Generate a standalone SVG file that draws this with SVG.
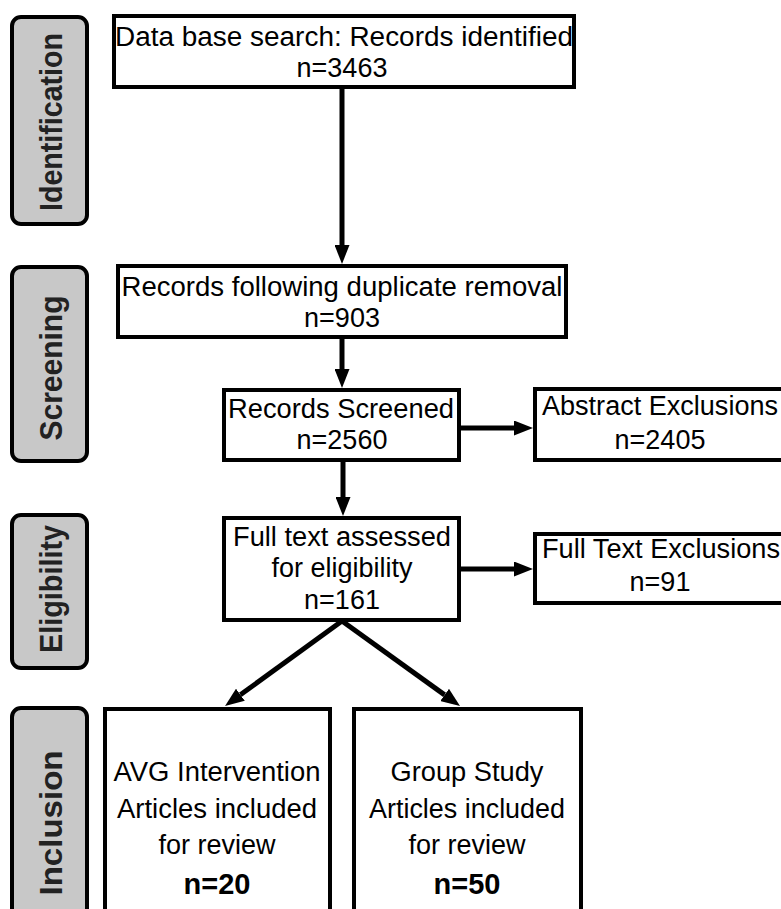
<svg xmlns="http://www.w3.org/2000/svg" width="781" height="909" viewBox="0 0 781 909">
<style>
  .lbl rect { fill: #c8c8c8; stroke: #000; stroke-width: 4; }
  .lbl text { font-family: "Liberation Sans", Arial, sans-serif; font-weight: bold; font-size: 31px; fill: #222; text-anchor: middle; }
  .box rect { fill: #fff; stroke: #000; stroke-width: 4; }
  .box text { font-family: "Liberation Sans", Arial, sans-serif; font-size: 27px; fill: #000; text-anchor: middle; }
  .box text.b { font-weight: bold; font-size: 29px; }
  .conn path { fill: none; stroke: #000; stroke-width: 5; }
</style>
<defs>
  <marker id="ah" markerUnits="userSpaceOnUse" markerWidth="19" markerHeight="15" refX="0" refY="7.5" orient="auto">
    <path d="M0,0 L19,7.5 L0,15 z" fill="#000"/>
  </marker>
</defs>
<rect width="781" height="909" fill="#fff"/>

<g id="lbl-identification" class="lbl">
  <rect x="12" y="17" width="75" height="207" rx="9"/>
  <text transform="translate(62,122) rotate(-90)" textLength="178" lengthAdjust="spacingAndGlyphs">Identification</text>
</g>
<g id="lbl-screening" class="lbl">
  <rect x="12" y="267" width="75" height="194" rx="9"/>
  <text transform="translate(62,368) rotate(-90)" textLength="145" lengthAdjust="spacingAndGlyphs">Screening</text>
</g>
<g id="lbl-eligibility" class="lbl">
  <rect x="12" y="515" width="75" height="153" rx="9"/>
  <text transform="translate(62,589) rotate(-90)" textLength="128" lengthAdjust="spacingAndGlyphs">Eligibility</text>
</g>
<g id="lbl-inclusion" class="lbl">
  <rect x="12" y="708" width="75" height="230" rx="9"/>
  <text transform="translate(62,823) rotate(-90)" textLength="145" lengthAdjust="spacingAndGlyphs">Inclusion</text>
</g>

<g id="n-search" class="box">
  <rect x="114" y="16" width="460" height="71"/>
  <text x="344" y="46" textLength="458" lengthAdjust="spacingAndGlyphs">Data base search: Records identified</text>
  <text x="342" y="77">n=3463</text>
</g>
<g id="n-dedup" class="box">
  <rect x="118" y="266" width="448" height="71"/>
  <text x="342" y="296" textLength="441" lengthAdjust="spacingAndGlyphs">Records following duplicate removal</text>
  <text x="342" y="327">n=903</text>
</g>
<g id="n-screened" class="box">
  <rect x="224" y="390" width="235" height="70"/>
  <text x="341" y="418" textLength="226" lengthAdjust="spacingAndGlyphs">Records Screened</text>
  <text x="342" y="449">n=2560</text>
</g>
<g id="n-abstract" class="box">
  <rect x="535" y="389" width="252" height="71"/>
  <text x="660" y="415" textLength="236" lengthAdjust="spacingAndGlyphs">Abstract Exclusions</text>
  <text x="660" y="449">n=2405</text>
</g>
<g id="n-fulltext" class="box">
  <rect x="224" y="518" width="235" height="102"/>
  <text x="342" y="546" textLength="218" lengthAdjust="spacingAndGlyphs">Full text assessed</text>
  <text x="342" y="577">for eligibility</text>
  <text x="342" y="609">n=161</text>
</g>
<g id="n-ftexcl" class="box">
  <rect x="535" y="534" width="252" height="69"/>
  <text x="661" y="558" textLength="238" lengthAdjust="spacingAndGlyphs">Full Text Exclusions</text>
  <text x="660" y="591">n=91</text>
</g>
<g id="n-avg" class="box">
  <rect x="105" y="709" width="225" height="230"/>
  <text x="217" y="781" textLength="207" lengthAdjust="spacingAndGlyphs">AVG Intervention</text>
  <text x="217" y="818" textLength="200" lengthAdjust="spacingAndGlyphs">Articles included</text>
  <text x="217" y="854">for review</text>
  <text class="b" x="217" y="894">n=20</text>
</g>
<g id="n-group" class="box">
  <rect x="354" y="709" width="227" height="230"/>
  <text x="467" y="781" textLength="153" lengthAdjust="spacingAndGlyphs">Group Study</text>
  <text x="467" y="818" textLength="196" lengthAdjust="spacingAndGlyphs">Articles included</text>
  <text x="467" y="854">for review</text>
  <text class="b" x="467" y="894">n=50</text>
</g>

<g id="connectors" class="conn">
  <path d="M342,89 L342,245" marker-end="url(#ah)"/>
  <path d="M342,339 L342,369" marker-end="url(#ah)"/>
  <path d="M343,462 L343,497" marker-end="url(#ah)"/>
  <path d="M461,428 L514,428" marker-end="url(#ah)"/>
  <path d="M461,569 L514,569" marker-end="url(#ah)"/>
  <path d="M342,621 L240.4,694.8" marker-end="url(#ah)"/>
  <path d="M342,621 L444.6,694.9" marker-end="url(#ah)"/>
</g>
</svg>
